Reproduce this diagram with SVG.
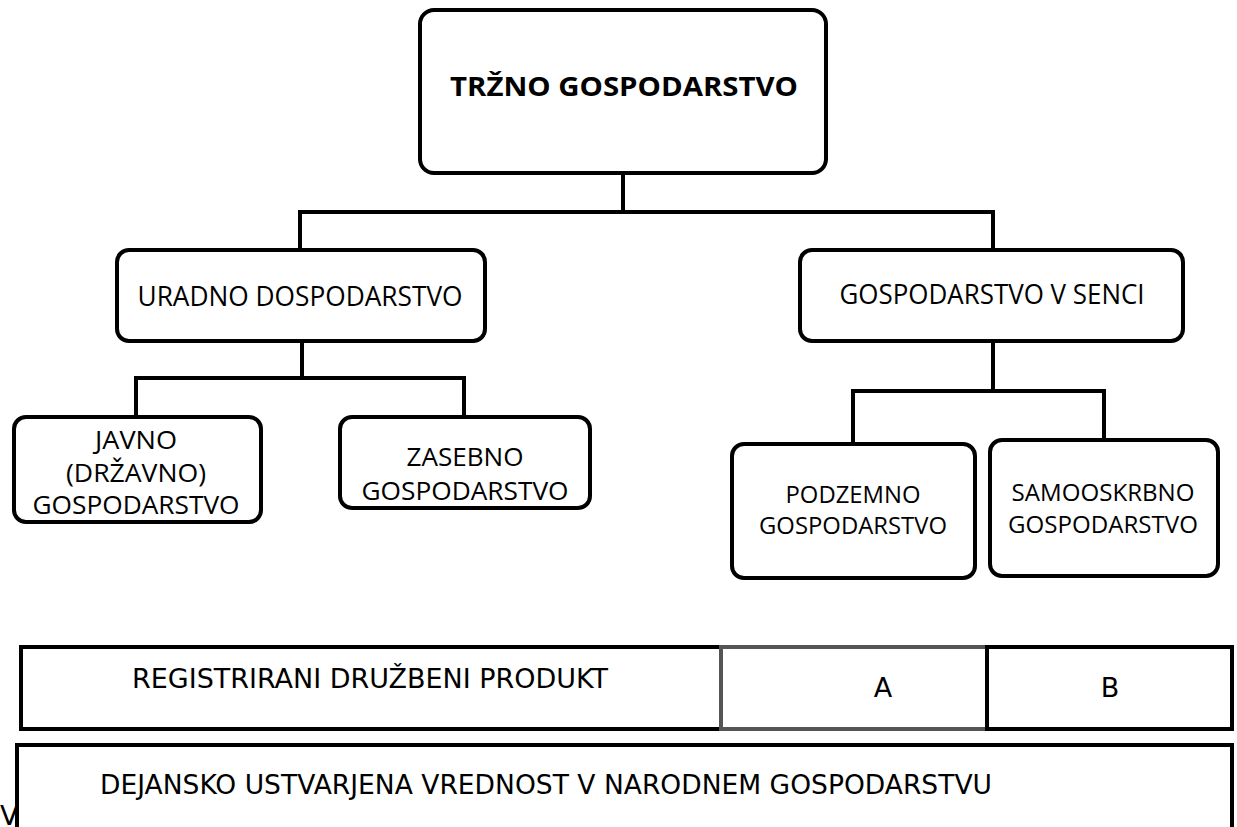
<svg xmlns="http://www.w3.org/2000/svg" width="1237" height="827" viewBox="0 0 1237 827">
<style>
.node rect{fill:#fff;stroke:#000;stroke-width:4}
.t{font-family:"Open Sans","Noto Sans",sans-serif;fill:#000;text-anchor:middle}
.conn path{fill:none;stroke:#000;stroke-width:4;stroke-linejoin:miter}
.bar{font-family:"DejaVu Sans","Liberation Sans",sans-serif;fill:#000;font-size:27px}
</style>
<rect width="1237" height="827" fill="#fff"/>
<g id="connectors" class="conn">
<path d="M623 173 V212"/>
<path d="M300 250 V212 H993 V250"/>
<path d="M302 341 V378"/>
<path d="M136 417 V378 H464 V417"/>
<path d="M993 341 V391"/>
<path d="M853 444 V391 H1104 V440"/>
</g>
<g id="n-trzno" class="node">
<rect x="420" y="10" width="406" height="163" rx="14"/>
<text class="t" x="624" y="96" font-size="27" font-weight="bold" textLength="348" lengthAdjust="spacingAndGlyphs">TRŽNO GOSPODARSTVO</text>
</g>
<g id="n-uradno" class="node">
<rect x="117" y="250" width="368" height="91" rx="12"/>
<text class="t" x="300" y="306" font-size="28" textLength="325" lengthAdjust="spacingAndGlyphs">URADNO DOSPODARSTVO</text>
</g>
<g id="n-senca" class="node">
<rect x="800" y="250" width="383" height="91" rx="12"/>
<text class="t" x="992" y="304" font-size="28" textLength="305" lengthAdjust="spacingAndGlyphs">GOSPODARSTVO V SENCI</text>
</g>
<g id="n-javno" class="node">
<rect x="14" y="417" width="247" height="105" rx="12"/>
<text class="t" x="136" y="449" font-size="25" textLength="82" lengthAdjust="spacingAndGlyphs">JAVNO</text>
<text class="t" x="136" y="482" font-size="25" textLength="140" lengthAdjust="spacingAndGlyphs">(DRŽAVNO)</text>
<text class="t" x="136" y="514" font-size="25" textLength="207" lengthAdjust="spacingAndGlyphs">GOSPODARSTVO</text>
</g>
<g id="n-zasebno" class="node">
<rect x="340" y="417" width="250" height="91" rx="12"/>
<text class="t" x="465" y="466" font-size="25" textLength="117" lengthAdjust="spacingAndGlyphs">ZASEBNO</text>
<text class="t" x="465" y="500" font-size="25" textLength="207" lengthAdjust="spacingAndGlyphs">GOSPODARSTVO</text>
</g>
<g id="n-podzemno" class="node">
<rect x="732" y="444" width="243" height="134" rx="12"/>
<text class="t" x="853" y="503" font-size="23" textLength="135" lengthAdjust="spacingAndGlyphs">PODZEMNO</text>
<text class="t" x="853" y="534" font-size="23" textLength="188" lengthAdjust="spacingAndGlyphs">GOSPODARSTVO</text>
</g>
<g id="n-samooskrbno" class="node">
<rect x="990" y="440" width="228" height="136" rx="12"/>
<text class="t" x="1103" y="501" font-size="23" textLength="183" lengthAdjust="spacingAndGlyphs">SAMOOSKRBNO</text>
<text class="t" x="1103" y="533" font-size="23" textLength="190" lengthAdjust="spacingAndGlyphs">GOSPODARSTVO</text>
</g>
<g id="bar-registrirani">
<rect x="21" y="647" width="700" height="82" fill="#fff" stroke="#000" stroke-width="4"/>
<text class="bar" x="132" y="688" textLength="476" lengthAdjust="spacingAndGlyphs">REGISTRIRANI DRUŽBENI PRODUKT</text>
</g>
<g id="bar-a">
<rect x="721" y="647" width="266" height="82" fill="#fff" stroke="#555" stroke-width="4"/>
<text class="bar" x="883" y="697" text-anchor="middle">A</text>
</g>
<g id="bar-b">
<rect x="987" y="647" width="245" height="82" fill="#fff" stroke="#000" stroke-width="4"/>
<text class="bar" x="1110" y="697" text-anchor="middle">B</text>
</g>
<g id="bar-dejansko">
<path d="M17 830 V745 H1232 V830" fill="none" stroke="#000" stroke-width="4"/>
<text class="bar" x="100" y="794" textLength="892" lengthAdjust="spacingAndGlyphs">DEJANSKO USTVARJENA VREDNOST V NARODNEM GOSPODARSTVU</text>
</g>
<text class="bar" x="0" y="825">V</text>
</svg>
